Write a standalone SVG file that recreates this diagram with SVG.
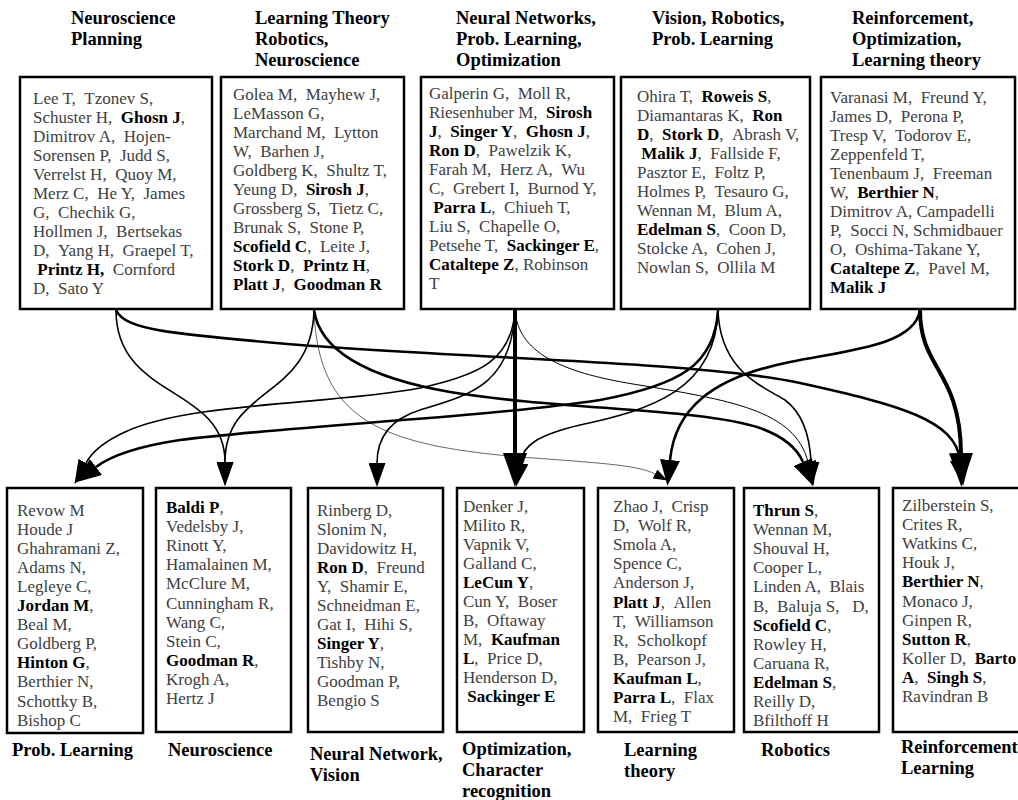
<svg xmlns="http://www.w3.org/2000/svg" width="1018" height="800" viewBox="0 0 1018 800">
<style>
.box{fill:#fff;stroke:#000;stroke-width:2.5}
.t{font-family:"Liberation Serif","Times New Roman",serif;font-size:17px;fill:#404040;white-space:pre}
.b{font-weight:bold;fill:#000}
.h{font-family:"Liberation Serif","Times New Roman",serif;font-size:18.5px;font-weight:bold;fill:#000}
.e{fill:none;stroke:#000}
.xl{stroke-width:4;marker-end:url(#ax)}
.l{stroke-width:2.6;marker-end:url(#al)}
.m{stroke-width:1.6;marker-end:url(#am)}
.th{stroke-width:1;marker-end:url(#am)}
.vt{stroke-width:0.6;marker-end:url(#as)}
</style>
<defs>
<marker id="ax" viewBox="0 -12 34 24" refX="0" refY="0" markerWidth="34" markerHeight="24" markerUnits="userSpaceOnUse" orient="auto"><path d="M0,-12 L34,0 L0,12 z" fill="#000"/></marker>
<marker id="al" viewBox="0 -10 26 20" refX="0" refY="0" markerWidth="26" markerHeight="20" markerUnits="userSpaceOnUse" orient="auto"><path d="M0,-10 L26,0 L0,10 z" fill="#000"/></marker>
<marker id="am" viewBox="0 -8.5 24 17" refX="0" refY="0" markerWidth="24" markerHeight="17" markerUnits="userSpaceOnUse" orient="auto"><path d="M0,-8.5 L24,0 L0,8.5 z" fill="#000"/></marker>
<marker id="as" viewBox="0 -5 14 10" refX="0" refY="0" markerWidth="14" markerHeight="10" markerUnits="userSpaceOnUse" orient="auto"><path d="M0,-5 L14,0 L0,5 z" fill="#000"/></marker>
</defs>
<rect width="1018" height="800" fill="#fff"/>

<g id="top-neuro-planning">
<text class="h" x="71" y="24">Neuroscience</text>
<text class="h" x="71" y="45">Planning</text>
<rect class="box" x="20" y="77" width="192" height="232"/>
<text class="t" x="33" y="103.5">Lee T, &#160;Tzonev S,</text>
<text class="t" x="33" y="122.5">Schuster H, &#160;<tspan class="b">Ghosn J</tspan>,</text>
<text class="t" x="33" y="141.5">Dimitrov A, &#160;Hojen-</text>
<text class="t" x="33" y="160.5">Sorensen P, &#160;Judd S,</text>
<text class="t" x="33" y="179.5">Verrelst H, &#160;Quoy M,</text>
<text class="t" x="33" y="198.5">Merz C, &#160;He Y, &#160;James</text>
<text class="t" x="33" y="217.5">G, &#160;Chechik G,</text>
<text class="t" x="33" y="236.5">Hollmen J, &#160;Bertsekas</text>
<text class="t" x="33" y="255.5">D, &#160;Yang H, &#160;Graepel T,</text>
<text class="t" x="33" y="274.5">&#160;<tspan class="b">Printz H,</tspan> &#160;Cornford</text>
<text class="t" x="33" y="293.5">D, &#160;Sato Y</text>
</g>

<g id="top-learning-theory">
<text class="h" x="255" y="24">Learning Theory</text>
<text class="h" x="255" y="45">Robotics,</text>
<text class="h" x="255" y="66">Neuroscience</text>
<rect class="box" x="221" y="77" width="183" height="232"/>
<text class="t" x="233" y="99.5">Golea M, &#160;Mayhew J,</text>
<text class="t" x="233" y="118.5">LeMasson G,</text>
<text class="t" x="233" y="137.5">Marchand M, &#160;Lytton</text>
<text class="t" x="233" y="156.5">W, &#160;Barhen J,</text>
<text class="t" x="233" y="175.5">Goldberg K, &#160;Shultz T,</text>
<text class="t" x="233" y="194.5">Yeung D, &#160;<tspan class="b">Sirosh J</tspan>,</text>
<text class="t" x="233" y="213.5">Grossberg S, &#160;Tietz C,</text>
<text class="t" x="233" y="232.5">Brunak S, &#160;Stone P,</text>
<text class="t" x="233" y="251.5"><tspan class="b">Scofield C</tspan>, &#160;Leite J,</text>
<text class="t" x="233" y="270.5"><tspan class="b">Stork D</tspan>, &#160;<tspan class="b">Printz H</tspan>,</text>
<text class="t" x="233" y="289.5"><tspan class="b">Platt J</tspan>, &#160;<tspan class="b">Goodman R</tspan></text>
</g>

<g id="top-neural-networks">
<text class="h" x="456" y="24">Neural Networks,</text>
<text class="h" x="456" y="45">Prob. Learning,</text>
<text class="h" x="456" y="66">Optimization</text>
<rect class="box" x="421" y="77" width="193" height="232"/>
<text class="t" x="429" y="98.5">Galperin G, &#160;Moll R,</text>
<text class="t" x="429" y="117.5">Riesenhuber M, &#160;<tspan class="b">Sirosh</tspan></text>
<text class="t" x="429" y="136.5"><tspan class="b">J</tspan>, &#160;<tspan class="b">Singer Y</tspan>, &#160;<tspan class="b">Ghosn J</tspan>,</text>
<text class="t" x="429" y="155.5"><tspan class="b">Ron D</tspan>, &#160;Pawelzik K,</text>
<text class="t" x="429" y="174.5">Farah M, &#160;Herz A, &#160;Wu</text>
<text class="t" x="429" y="193.5">C, &#160;Grebert I, &#160;Burnod Y,</text>
<text class="t" x="429" y="212.5">&#160;<tspan class="b">Parra L</tspan>, &#160;Chiueh T,</text>
<text class="t" x="429" y="231.5">Liu S, &#160;Chapelle O,</text>
<text class="t" x="429" y="250.5">Petsehe T, &#160;<tspan class="b">Sackinger E</tspan>,</text>
<text class="t" x="429" y="269.5"><tspan class="b">Cataltepe Z</tspan>, Robinson</text>
<text class="t" x="429" y="288.5">T</text>
</g>

<g id="top-vision">
<text class="h" x="652" y="24">Vision, Robotics,</text>
<text class="h" x="652" y="45">Prob. Learning</text>
<rect class="box" x="621" y="77" width="189" height="232"/>
<text class="t" x="637" y="101.5">Ohira T, &#160;<tspan class="b">Roweis S</tspan>,</text>
<text class="t" x="637" y="120.5">Diamantaras K, &#160;<tspan class="b">Ron</tspan></text>
<text class="t" x="637" y="139.5"><tspan class="b">D</tspan>, &#160;<tspan class="b">Stork D</tspan>, &#160;Abrash V,</text>
<text class="t" x="637" y="158.5">&#160;<tspan class="b">Malik J</tspan>, &#160;Fallside F,</text>
<text class="t" x="637" y="177.5">Pasztor E, &#160;Foltz P,</text>
<text class="t" x="637" y="196.5">Holmes P, &#160;Tesauro G,</text>
<text class="t" x="637" y="215.5">Wennan M, &#160;Blum A,</text>
<text class="t" x="637" y="234.5"><tspan class="b">Edelman S</tspan>, &#160;Coon D,</text>
<text class="t" x="637" y="253.5">Stolcke A, &#160;Cohen J,</text>
<text class="t" x="637" y="272.5">Nowlan S, &#160;Ollila M</text>
</g>

<g id="top-reinforcement">
<text class="h" x="852" y="24">Reinforcement,</text>
<text class="h" x="852" y="45">Optimization,</text>
<text class="h" x="852" y="66">Learning theory</text>
<rect class="box" x="821" y="77" width="194" height="232"/>
<text class="t" x="830" y="102.5">Varanasi M, &#160;Freund Y,</text>
<text class="t" x="830" y="121.5">James D, &#160;Perona P,</text>
<text class="t" x="830" y="140.5">Tresp V, &#160;Todorov E,</text>
<text class="t" x="830" y="159.5">Zeppenfeld T,</text>
<text class="t" x="830" y="178.5">Tenenbaum J, &#160;Freeman</text>
<text class="t" x="830" y="197.5">W, &#160;<tspan class="b">Berthier N</tspan>,</text>
<text class="t" x="830" y="216.5">Dimitrov A, Campadelli</text>
<text class="t" x="830" y="235.5">P, &#160;Socci N, Schmidbauer</text>
<text class="t" x="830" y="254.5">O, &#160;Oshima-Takane Y,</text>
<text class="t" x="830" y="273.5"><tspan class="b">Cataltepe Z</tspan>, &#160;Pavel M,</text>
<text class="t" x="830" y="292.5"><tspan class="b">Malik J</tspan></text>
</g>

<g id="bot-prob-learning">
<rect class="box" x="7" y="488" width="136" height="245"/>
<text class="t" x="17" y="515.5">Revow M</text>
<text class="t" x="17" y="534.6">Houde J</text>
<text class="t" x="17" y="553.7">Ghahramani Z,</text>
<text class="t" x="17" y="572.8">Adams N,</text>
<text class="t" x="17" y="591.9">Legleye C,</text>
<text class="t" x="17" y="611"><tspan class="b">Jordan M</tspan>,</text>
<text class="t" x="17" y="630.1">Beal M,</text>
<text class="t" x="17" y="649.2">Goldberg P,</text>
<text class="t" x="17" y="668.3"><tspan class="b">Hinton G</tspan>,</text>
<text class="t" x="17" y="687.4">Berthier N,</text>
<text class="t" x="17" y="706.5">Schottky B,</text>
<text class="t" x="17" y="725.6">Bishop C</text>
<text class="h" x="12" y="756">Prob. Learning</text>
</g>

<g id="bot-neuroscience">
<rect class="box" x="156" y="488" width="135" height="244"/>
<text class="t" x="166" y="513"><tspan class="b">Baldi P</tspan>,</text>
<text class="t" x="166" y="532.1">Vedelsby J,</text>
<text class="t" x="166" y="551.2">Rinott Y,</text>
<text class="t" x="166" y="570.3">Hamalainen M,</text>
<text class="t" x="166" y="589.4">McClure M,</text>
<text class="t" x="166" y="608.5">Cunningham R,</text>
<text class="t" x="166" y="627.6">Wang C,</text>
<text class="t" x="166" y="646.7">Stein C,</text>
<text class="t" x="166" y="665.8"><tspan class="b">Goodman R</tspan>,</text>
<text class="t" x="166" y="684.9">Krogh A,</text>
<text class="t" x="166" y="704">Hertz J</text>
<text class="h" x="168" y="756">Neuroscience</text>
</g>

<g id="bot-neural-network-vision">
<rect class="box" x="308" y="488" width="135" height="244"/>
<text class="t" x="317" y="516">Rinberg D,</text>
<text class="t" x="317" y="535">Slonim N,</text>
<text class="t" x="317" y="554">Davidowitz H,</text>
<text class="t" x="317" y="573"><tspan class="b">Ron D</tspan>, &#160;Freund</text>
<text class="t" x="317" y="592">Y, &#160;Shamir E,</text>
<text class="t" x="317" y="611">Schneidman E,</text>
<text class="t" x="317" y="630">Gat I, &#160;Hihi S,</text>
<text class="t" x="317" y="649"><tspan class="b">Singer Y</tspan>,</text>
<text class="t" x="317" y="668">Tishby N,</text>
<text class="t" x="317" y="687">Goodman P,</text>
<text class="t" x="317" y="706">Bengio S</text>
<text class="h" x="310" y="760">Neural Network,</text>
<text class="h" x="310" y="781">Vision</text>
</g>

<g id="bot-optimization">
<rect class="box" x="457" y="488" width="127" height="244"/>
<text class="t" x="463" y="512">Denker J,</text>
<text class="t" x="463" y="531">Milito R,</text>
<text class="t" x="463" y="550">Vapnik V,</text>
<text class="t" x="463" y="569">Galland C,</text>
<text class="t" x="463" y="588"><tspan class="b">LeCun Y</tspan>,</text>
<text class="t" x="463" y="607">Cun Y, &#160;Boser</text>
<text class="t" x="463" y="626">B, &#160;Oftaway</text>
<text class="t" x="463" y="645">M, &#160;<tspan class="b">Kaufman</tspan></text>
<text class="t" x="463" y="664"><tspan class="b">L</tspan>, &#160;Price D,</text>
<text class="t" x="463" y="683">Henderson D,</text>
<text class="t" x="463" y="702">&#160;<tspan class="b">Sackinger E</tspan></text>
<text class="h" x="462" y="755">Optimization,</text>
<text class="h" x="462" y="776">Character</text>
<text class="h" x="462" y="797">recognition</text>
</g>

<g id="bot-learning-theory">
<rect class="box" x="598" y="488" width="136" height="244"/>
<text class="t" x="613" y="512">Zhao J, &#160;Crisp</text>
<text class="t" x="613" y="531.1">D, &#160;Wolf R,</text>
<text class="t" x="613" y="550.2">Smola A,</text>
<text class="t" x="613" y="569.3">Spence C,</text>
<text class="t" x="613" y="588.4">Anderson J,</text>
<text class="t" x="613" y="607.5"><tspan class="b">Platt J</tspan>, &#160;Allen</text>
<text class="t" x="613" y="626.6">T, &#160;Williamson</text>
<text class="t" x="613" y="645.7">R, &#160;Scholkopf</text>
<text class="t" x="613" y="664.8">B, &#160;Pearson J,</text>
<text class="t" x="613" y="683.9"><tspan class="b">Kaufman L</tspan>,</text>
<text class="t" x="613" y="703"><tspan class="b">Parra L</tspan>, &#160;Flax</text>
<text class="t" x="613" y="722.1">M, &#160;Frieg T</text>
<text class="h" x="624" y="756">Learning</text>
<text class="h" x="624" y="777">theory</text>
</g>

<g id="bot-robotics">
<rect class="box" x="744" y="488" width="135" height="244"/>
<text class="t" x="753" y="516"><tspan class="b">Thrun S</tspan>,</text>
<text class="t" x="753" y="535.1">Wennan M,</text>
<text class="t" x="753" y="554.2">Shouval H,</text>
<text class="t" x="753" y="573.3">Cooper L,</text>
<text class="t" x="753" y="592.4">Linden A, &#160;Blais</text>
<text class="t" x="753" y="611.5">B, &#160;Baluja S, &#160; D,</text>
<text class="t" x="753" y="630.6"><tspan class="b">Scofield C</tspan>,</text>
<text class="t" x="753" y="649.7">Rowley H,</text>
<text class="t" x="753" y="668.8">Caruana R,</text>
<text class="t" x="753" y="687.9"><tspan class="b">Edelman S</tspan>,</text>
<text class="t" x="753" y="707">Reilly D,</text>
<text class="t" x="753" y="726.1">Bfilthoff H</text>
<text class="h" x="761" y="756">Robotics</text>
</g>

<g id="bot-reinforcement-learning">
<rect class="box" x="893" y="488" width="140" height="244"/>
<text class="t" x="902" y="511">Zilberstein S,</text>
<text class="t" x="902" y="530.1">Crites R,</text>
<text class="t" x="902" y="549.2">Watkins C,</text>
<text class="t" x="902" y="568.3">Houk J,</text>
<text class="t" x="902" y="587.4"><tspan class="b">Berthier N</tspan>,</text>
<text class="t" x="902" y="606.5">Monaco J,</text>
<text class="t" x="902" y="625.6">Ginpen R,</text>
<text class="t" x="902" y="644.7"><tspan class="b">Sutton R</tspan>,</text>
<text class="t" x="902" y="663.8">Koller D, &#160;<tspan class="b">Barto</tspan></text>
<text class="t" x="902" y="682.9"><tspan class="b">A</tspan>, &#160;<tspan class="b">Singh S</tspan>,</text>
<text class="t" x="902" y="702">Ravindran B</text>
<text class="h" x="901" y="753">Reinforcement</text>
<text class="h" x="901" y="774">Learning</text>
</g>

<g id="connectors">
<path class="e m" d="M116,310 C116,400 225,385 225,462"/>
<path class="e l" d="M116,310 C125,330 170,334 300,345 C500,360 700,362 800,383 C900,405 955,420 960,460"/>
<path class="e m" d="M314,310 C312,400 225,385 225,462"/>
<path class="e vt" d="M314,310 C318,420 380,445 520,457 C600,463 638,465 655,474"/>
<path class="e l" d="M314,310 C320,352 370,378 450,392 C560,410 700,408 760,428 C785,437 797,448 803,462"/>
<path class="e xl" d="M515,310 L515,453"/>
<path class="e m" d="M515,310 C512,360 480,375 420,388 C330,405 190,402 125,432 C103,442 92,452 86,463"/>
<path class="e m" d="M515,310 C512,385 470,395 420,410 C388,420 377,440 377,463"/>
<path class="e th" d="M515,310 C518,352 560,372 633,384 C730,400 795,410 808,462"/>
<path class="e l" d="M718,310 C715,365 680,385 600,400 C480,418 300,425 180,440 C140,446 112,455 96,467"/>
<path class="e m" d="M718,310 C716,390 650,410 580,425 C538,435 523,445 520,463"/>
<path class="e m" d="M718,310 C720,370 760,385 785,400 C805,415 810,440 811,462"/>
<path class="e l" d="M920,310 C915,345 850,350 790,362 C710,378 675,410 670,460"/>
<path class="e xl" d="M920,310 C920,370 960,370 961,453"/>
</g>
</svg>
